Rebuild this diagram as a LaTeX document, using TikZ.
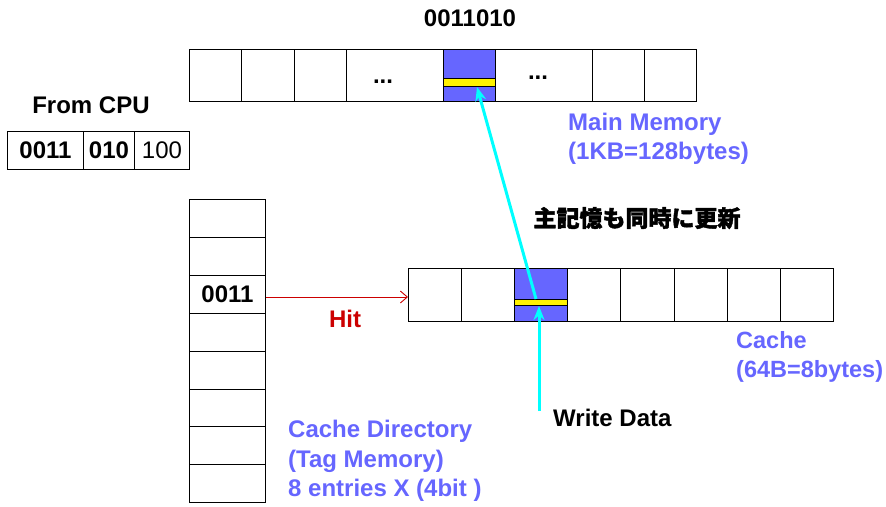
\documentclass[tikz,border=0pt]{standalone}
\usepackage{fontspec}
\setmainfont{Liberation Sans}
\newfontfamily\cjk{Noto Sans CJK JP}[FakeBold=1.8]
\usetikzlibrary{arrows.meta}
\definecolor{memblue}{HTML}{6666FF}
\definecolor{hitred}{HTML}{CC0000}
\definecolor{cyanline}{HTML}{00FFFF}
\begin{document}
\begin{tikzpicture}[x=1pt,y=-1pt,
  cell/.style={draw=black, line width=0.9pt, inner sep=0pt, anchor=north west, font=\fontsize{24}{28}\selectfont\bfseries},
  bluecell/.style={cell, fill=memblue},
  ybar/.style={draw=black, line width=0.7pt, fill=yellow, inner sep=0pt, anchor=north west},
  lbl/.style={font=\fontsize{24}{29.5}\selectfont\bfseries, inner sep=0pt},
  bluelbl/.style={lbl, text=memblue, align=left, anchor=west},
  cyanarrow/.style={draw=cyanline, line width=3pt, -{Stealth[length=14pt,width=11pt]}},
]
\useasboundingbox (0,0) rectangle (886,506);
\fill[white] (0,0) rectangle (886,506);

% ---------- Main memory ----------
\node[cell, minimum width=52pt, minimum height=52pt] (m1) at (189,49) {};
\node[cell, minimum width=53pt, minimum height=52pt] (m2) at (241,49) {};
\node[cell, minimum width=52pt, minimum height=52pt] (m3) at (294,49) {};
\node[cell, minimum width=97pt, minimum height=52pt] (m4) at (346,49) {};
\node[bluecell, minimum width=52pt, minimum height=52pt] (m5) at (443,49) {};
\node[cell, minimum width=97pt, minimum height=52pt] (m6) at (495,49) {};
\node[cell, minimum width=52pt, minimum height=52pt] (m7) at (592,49) {};
\node[cell, minimum width=52pt, minimum height=52pt] (m8) at (644,49) {};
\node[lbl] (dots1) at (383,82) {...};
\node[lbl] (dots2) at (538,78) {...};
\node[ybar, minimum width=52pt, minimum height=8pt] (mbar) at (443,78) {};
\node[lbl] (addr) at (470,18) {0011010};
\node[bluelbl] (mmlabel) at (568,139) {Main Memory\\(1KB=128bytes)};

% ---------- From CPU ----------
\node[lbl] (cpulabel) at (91,105) {From CPU};
\node[cell, minimum width=76pt, minimum height=38pt] (cpu1) at (7,131) {0011};
\node[cell, minimum width=51pt, minimum height=38pt] (cpu2) at (83,131) {010};
\node[cell, minimum width=55pt, minimum height=38pt, font=\fontsize{24}{28}\selectfont] (cpu3) at (134,131) {100};

% ---------- Tag directory ----------
\foreach \i in {1,...,8} {
  \node[cell, minimum width=76pt, minimum height=37.9pt] (t\i) at (189,{199+(\i-1)*37.9}) {};
}
\node[lbl] (tagtext) at (t3.center) {0011};
\node[bluelbl] (dirlabel) at (288,461) {Cache Directory\\(Tag Memory)\\8 entries X (4bit )};

% ---------- Cache ----------
\foreach \i in {1,...,8} {
  \node[cell, minimum width=53.1pt, minimum height=53pt] (c\i) at ({408+(\i-1)*53.1},268) {};
}
\node[bluecell, minimum width=53.1pt, minimum height=53pt] (c3b) at (514.2,268) {};
\node[ybar, minimum width=53.1pt, minimum height=6pt] (cbar) at (514.2,299) {};
\node[bluelbl, font=\fontsize{23.5}{29.5}\selectfont\bfseries] (cachelabel) at (736,357) {Cache\\(64B=8bytes)};

% ---------- Hit arrow ----------
\draw[hitred, line width=0.9pt, -{Straight Barb[length=7pt,width=12pt]}] (t3.east |- 0,297) coordinate (hitstart) -- (c1.west |- 0,297) coordinate (hitend);
\node[lbl, text=hitred] (hit) at (345,319) {Hit};

% ---------- Write-through arrows ----------
\coordinate (wdstart) at (539,411);
\coordinate (wdend) at (539,306);
\coordinate (upstart) at (536,299);
\coordinate (upend) at (477,87);
\draw[cyanarrow] (wdstart) -- (wdend);
\draw[cyanarrow] (upstart) -- (upend);
\node[lbl, anchor=west] (wdlabel) at (553,418) {Write Data};
\node[lbl, font=\fontsize{23}{28}\selectfont\bfseries] (jplabel) at (637,218) {\cjk 主記憶も同時に更新};
\end{tikzpicture}
\end{document}
